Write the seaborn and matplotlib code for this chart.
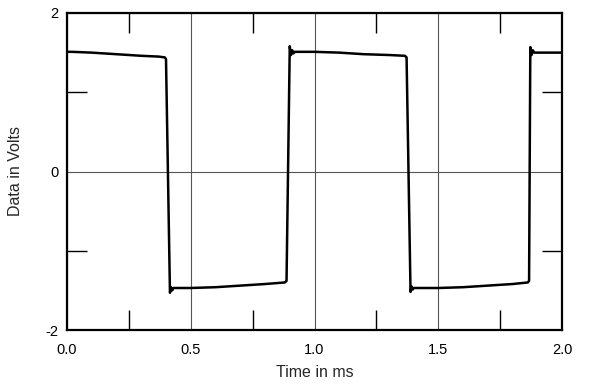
import matplotlib
matplotlib.use("Agg")
import matplotlib.pyplot as plt
import seaborn as sns
import pandas as pd
from matplotlib.ticker import FixedLocator

# Data
time_ms = [0.0, 0.02, 0.1, 0.15, 0.2, 0.3, 0.37, 0.395, 0.400,
           0.416, 0.420, 0.425, 0.430, 0.5, 0.6, 0.7, 0.8, 0.88, 0.887,
           0.900, 0.905, 0.910, 0.915, 0.92, 1.0, 1.1, 1.2, 1.3, 1.365, 1.372,
           1.388, 1.392, 1.397, 1.40, 1.5, 1.6, 1.7, 1.80, 1.862, 1.867,
           1.872, 1.877, 1.882, 1.888, 2.0]
volts = [1.51, 1.51, 1.50, 1.49, 1.48, 1.46, 1.45, 1.44, 1.42,
         -1.53, -1.46, -1.50, -1.47, -1.47, -1.46, -1.44, -1.42, -1.40, -1.38,
         1.58, 1.47, 1.53, 1.49, 1.51, 1.51, 1.50, 1.48, 1.47, 1.46, 1.44,
         -1.52, -1.45, -1.49, -1.47, -1.47, -1.46, -1.44, -1.42, -1.40, -1.38,
         1.57, 1.47, 1.53, 1.50, 1.50]

x_major = [0.0, 0.5, 1.0, 1.5, 2.0]
x_labels = ["0.0", "0.5", "1.0", "1.5", "2.0"]
x_minor = [0.25, 0.75, 1.25, 1.75]
y_major = [-2, 0, 2]
y_labels = ["-2", "0", "2"]
y_minor = [-1, 1]

df = pd.DataFrame({"t": time_ms, "v": volts})

sns.set_style("white")
plt.rcParams["font.family"] = ["Liberation Sans", "DejaVu Sans"]

fig = plt.figure(figsize=(6.0, 3.88), dpi=100)
ax = fig.add_axes([67/600, 1-330/388, (562-67)/600, (330-13)/388])

sns.lineplot(data=df, x="t", y="v", ax=ax, color="black", linewidth=1.8,
             sort=False, estimator=None)

ax.set_xlim(0, 2)
ax.set_ylim(-2, 2)
ax.xaxis.set_major_locator(FixedLocator(x_major))
ax.set_xticklabels(x_labels)
ax.yaxis.set_major_locator(FixedLocator(y_major))
ax.set_yticklabels(y_labels)
ax.xaxis.set_minor_locator(FixedLocator(x_minor))
ax.yaxis.set_minor_locator(FixedLocator(y_minor))

ax.grid(True, which="major", color="#555555", linewidth=0.8)
ax.tick_params(which="major", length=0, labelsize=10.5, colors="black")
ax.tick_params(axis="x", which="major", pad=9)
ax.tick_params(axis="y", which="major", pad=6)
ax.tick_params(which="minor", direction="in", length=14.5, width=1.0,
               color="black", top=True, bottom=True, left=True, right=True)

for s in ax.spines.values():
    s.set_visible(True)
    s.set_color("black")
    s.set_linewidth(1.6)

ax.set_xlabel("Time in ms", fontsize=11.5, labelpad=6)
ax.set_ylabel("Data in Volts", fontsize=11.5, labelpad=16)

fig.savefig("out.png", dpi=100)
